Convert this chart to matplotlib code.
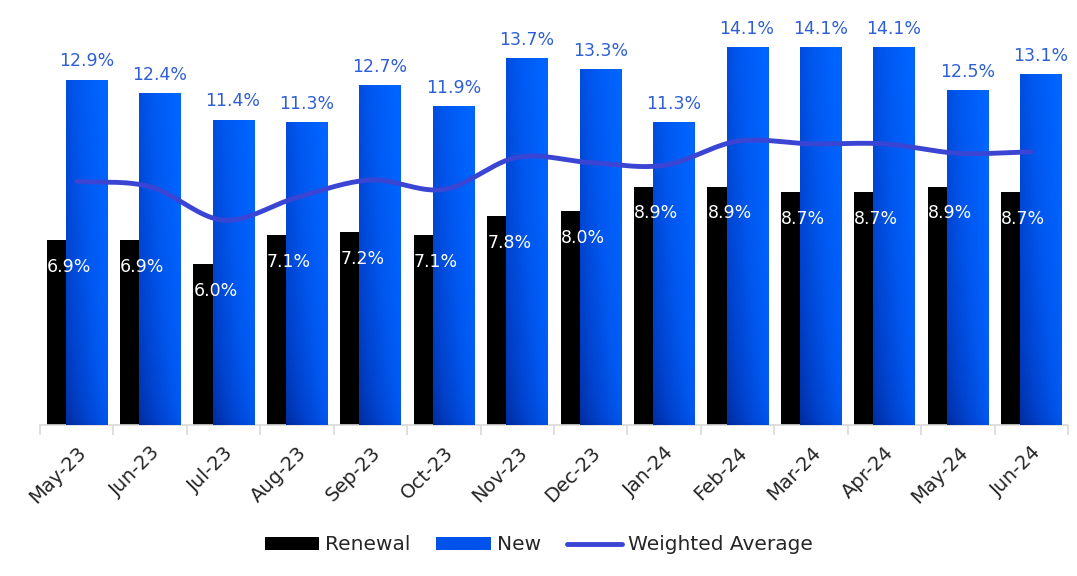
import numpy as np
import matplotlib
matplotlib.use('Agg')
import matplotlib.pyplot as plt
from matplotlib.patches import Patch
from matplotlib.lines import Line2D
from matplotlib.colors import LinearSegmentedColormap

months = ['May-23', 'Jun-23', 'Jul-23', 'Aug-23', 'Sep-23', 'Oct-23', 'Nov-23',
          'Dec-23', 'Jan-24', 'Feb-24', 'Mar-24', 'Apr-24', 'May-24', 'Jun-24']
renewal = [6.9, 6.9, 6.0, 7.1, 7.2, 7.1, 7.8, 8.0, 8.9, 8.9, 8.7, 8.7, 8.9, 8.7]
new = [12.9, 12.4, 11.4, 11.3, 12.7, 11.9, 13.7, 13.3, 11.3, 14.1, 14.1, 14.1, 12.5, 13.1]
weighted_avg = [9.1, 8.9, 7.65, 8.5, 9.15, 8.8, 10.0, 9.8, 9.7, 10.6, 10.5, 10.5, 10.15, 10.2]

plt.rcParams['font.family'] = ['DejaVu Sans']

blue_cmap = LinearSegmentedColormap.from_list('newblue', ['#00299a', '#0042cc', '#0058f0', '#0064ff'])
line_color = '#3a45d4'
label_blue = '#2f5fd6'


def smooth(xs, ys, n=20):
    # catmull-rom through the points, like excel's smoothed line
    xs = np.asarray(xs, float)
    ys = np.asarray(ys, float)
    px = np.concatenate([[2 * xs[0] - xs[1]], xs, [2 * xs[-1] - xs[-2]]])
    py = np.concatenate([[2 * ys[0] - ys[1]], ys, [2 * ys[-1] - ys[-2]]])
    ox, oy = [], []
    for i in range(1, len(px) - 2):
        t = np.linspace(0, 1, n, endpoint=False)
        for p, out in ((px, ox), (py, oy)):
            p0, p1, p2, p3 = p[i - 1], p[i], p[i + 1], p[i + 2]
            out.extend(0.5 * (2 * p1 + (-p0 + p2) * t + (2 * p0 - 5 * p1 + 4 * p2 - p3) * t ** 2
                              + (-p0 + 3 * p1 - 3 * p2 + p3) * t ** 3))
    ox.append(xs[-1])
    oy.append(ys[-1])
    return np.array(ox), np.array(oy)


fig = plt.figure(figsize=(10.77, 5.76), dpi=100)
ax = fig.add_axes([40 / 1077, 151 / 576, 1028 / 1077, 415 / 576])

x = np.arange(len(months))
w = 0.56
off = 0.13

rb = ax.bar(x - off, renewal, w, color='black', zorder=2)
nb = ax.bar(x + off, new, w, color='none', zorder=3)

# gradient fill for the new bars
u = np.linspace(0, 1, 60)
v = np.linspace(0, 1, 200)
U, V = np.meshgrid(u, v)
grad = np.clip(0.7 * U + 0.6 * V ** 0.5, 0, 1.2) / 1.2
for bar in nb:
    x0, y0 = bar.get_x(), bar.get_y()
    im = ax.imshow(grad, cmap=blue_cmap, origin='lower', aspect='auto',
                   extent=[x0, x0 + bar.get_width(), y0, y0 + bar.get_height()],
                   zorder=3, vmin=0, vmax=1)
    im.set_clip_path(bar)

sx, sy = smooth(x, weighted_avg)
ax.plot(sx, sy, color=line_color, lw=3.5, solid_capstyle='round', zorder=4)

for i in range(len(months)):
    ax.text(x[i] + off, new[i] + 0.35, f'{new[i]:.1f}%', ha='center', va='bottom',
            color=label_blue, fontsize=12.5, zorder=5)
    ax.text(x[i] - off - w / 2, renewal[i] - 1.0, f'{renewal[i]:.1f}%', ha='left', va='center',
            color='white', fontsize=12.5, zorder=5)

ax.set_xlim(-0.5, len(months) - 0.5)
ax.set_ylim(0, 15.5)
ax.set_yticks([])
for s in ['top', 'right', 'left']:
    ax.spines[s].set_visible(False)
ax.spines['bottom'].set_color('#d9d9d9')
ax.spines['bottom'].set_linewidth(1.2)

ax.set_xticks(x)
ax.set_xticklabels(months, rotation=45, ha='right', va='top', rotation_mode='anchor',
                   fontsize=14, color='#262626')
ax.tick_params(axis='x', which='major', length=0, pad=13)
ax.set_xticks(np.arange(-0.5, len(months), 1), minor=True)
ax.tick_params(axis='x', which='minor', length=7, width=1.2, color='#d9d9d9')

handles = [Patch(facecolor='black', label='Renewal'),
           Patch(facecolor='#0052ea', label='New'),
           Line2D([0], [0], color=line_color, lw=3.5, solid_capstyle='round', label='Weighted Average')]
fig.legend(handles=handles, loc='center', bbox_to_anchor=(0.5, 1 - 545 / 576),
           ncol=3, frameon=False, fontsize=14.5, handlelength=2.7, handleheight=0.6,
           columnspacing=1.3, handletextpad=0.3, labelcolor='#262626')

fig.savefig('out.png', dpi=100)
